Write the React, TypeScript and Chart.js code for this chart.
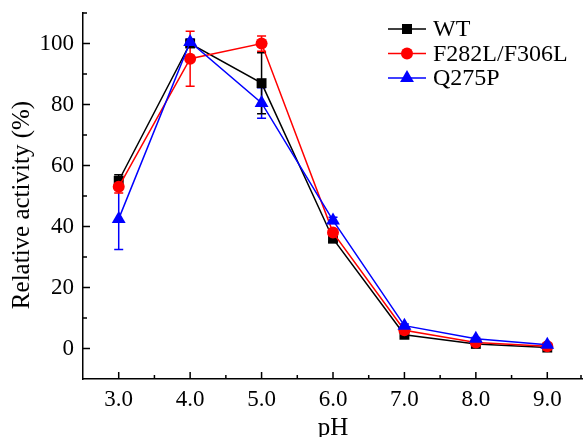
import React, { useEffect, useRef } from "react";
import { Chart, registerables } from "chart.js";

Chart.register(...registerables);

const phValues = [3, 4, 5, 6, 7, 8, 9];
const xTickValues = [3, 4, 5, 6, 7, 8, 9];
const xMinorTicks = [3.5, 4.5, 5.5, 6.5, 7.5, 8.5, 9.5];
const yTickValues = [0, 20, 40, 60, 80, 100];
const yMinorTicks = [10, 30, 50, 70, 90, 110];

const seriesNames = ["WT", "F282L/F306L", "Q275P"];
const wtValues = [55, 100, 87, 36, 4.5, 1.5, 0.3];
const wtErrors = [2, 1, 10, 1, 0.5, 0.4, 0.3];
const mutValues = [53, 95, 100, 38, 6, 2, 0.7];
const mutErrors = [2, 9, 2.5, 1, 0.5, 0.4, 0.3];
const qValues = [42.5, 100.5, 80.5, 42, 7.5, 3.2, 1.2];
const qErrors = [10, 1, 5, 1, 0.5, 0.4, 0.3];

const xTitle = "pH";
const yTitle = "Relative activity (%)";

const colors = ["#000000", "#ff0000", "#0000ff"];
const pointStyles = ["rect", "circle", "triangle"];
const FONT = '"Liberation Serif", "Times New Roman", serif';

const allValues = [wtValues, mutValues, qValues];
const allErrors = [wtErrors, mutErrors, qErrors];

function drawMarker(ctx: CanvasRenderingContext2D, style: string, x: number, y: number, color: string) {
  ctx.save();
  ctx.fillStyle = color;
  ctx.beginPath();
  if (style === "rect") {
    ctx.rect(x - 5, y - 5, 10, 10);
  } else if (style === "circle") {
    ctx.arc(x, y, 6, 0, Math.PI * 2);
  } else {
    const r = 8;
    ctx.moveTo(x, y - r);
    ctx.lineTo(x + r * Math.sin(Math.PI / 3), y + r / 2);
    ctx.lineTo(x - r * Math.sin(Math.PI / 3), y + r / 2);
    ctx.closePath();
  }
  ctx.fill();
  ctx.restore();
}

const errorBarPlugin = {
  id: "errorBars",
  beforeDatasetsDraw(chart: any) {
    const ctx = chart.ctx;
    const xs = chart.scales.x;
    const ys = chart.scales.y;
    ctx.save();
    ctx.lineWidth = 1.5;
    for (let i = allValues.length - 1; i >= 0; i--) {
      ctx.strokeStyle = colors[i];
      phValues.forEach((p, j) => {
        const v = allValues[i][j];
        const e = allErrors[i][j];
        const x = xs.getPixelForValue(p);
        const yt = ys.getPixelForValue(v + e);
        const yb = ys.getPixelForValue(v - e);
        ctx.beginPath();
        ctx.moveTo(x, yt);
        ctx.lineTo(x, yb);
        ctx.moveTo(x - 4.5, yt);
        ctx.lineTo(x + 4.5, yt);
        ctx.moveTo(x - 4.5, yb);
        ctx.lineTo(x + 4.5, yb);
        ctx.stroke();
      });
    }
    ctx.restore();
  },
};

const axisTicksPlugin = {
  id: "axisTicks",
  afterDraw(chart: any) {
    const ctx = chart.ctx;
    const xs = chart.scales.x;
    const ys = chart.scales.y;
    const area = chart.chartArea;
    ctx.save();
    ctx.strokeStyle = "#000";
    ctx.lineWidth = 1.5;
    ctx.beginPath();
    xTickValues.forEach((v) => {
      const x = xs.getPixelForValue(v);
      ctx.moveTo(x, area.bottom);
      ctx.lineTo(x, area.bottom - 7);
    });
    xMinorTicks.forEach((v) => {
      const x = Math.min(xs.getPixelForValue(v), area.right - 2);
      ctx.moveTo(x, area.bottom);
      ctx.lineTo(x, area.bottom - 4);
    });
    yTickValues.forEach((v) => {
      const y = ys.getPixelForValue(v);
      ctx.moveTo(area.left, y);
      ctx.lineTo(area.left + 7, y);
    });
    yMinorTicks.forEach((v) => {
      const y = ys.getPixelForValue(v);
      ctx.moveTo(area.left, y);
      ctx.lineTo(area.left + 4, y);
    });
    ctx.stroke();

    // y-axis title
    ctx.save();
    ctx.translate(22, 205);
    ctx.rotate(-Math.PI / 2);
    ctx.font = `25px ${FONT}`;
    ctx.fillStyle = "#000";
    ctx.textAlign = "center";
    ctx.textBaseline = "middle";
    ctx.fillText(yTitle, 0, 0);
    ctx.restore();

    // legend
    ctx.font = `24px ${FONT}`;
    ctx.textBaseline = "middle";
    ctx.textAlign = "left";
    seriesNames.forEach((name, i) => {
      const y = 29 + i * 24.5;
      ctx.strokeStyle = colors[i];
      ctx.lineWidth = 1.5;
      ctx.beginPath();
      ctx.moveTo(388, y);
      ctx.lineTo(426, y);
      ctx.stroke();
      drawMarker(ctx, pointStyles[i], 407, y, colors[i]);
      ctx.fillStyle = "#000";
      ctx.fillText(name, 433, y + 1);
    });
    ctx.restore();
  },
};

export default function App() {
  const canvasRef = useRef<HTMLCanvasElement | null>(null);

  useEffect(() => {
    if (!canvasRef.current) return;
    const datasets = allValues.map((vals, i) => ({
      label: seriesNames[i],
      data: phValues.map((p, j) => ({ x: p, y: vals[j] })),
      borderColor: colors[i],
      backgroundColor: colors[i],
      pointBackgroundColor: colors[i],
      pointBorderColor: colors[i],
      pointBorderWidth: 0,
      pointStyle: pointStyles[i],
      pointRadius: i === 0 ? 7 : i === 1 ? 6 : 8,
      borderWidth: 1.5,
      tension: 0,
      order: 2 - i,
    }));

    const chart = new Chart(canvasRef.current, {
      type: "line",
      data: { datasets },
      options: {
        animation: false,
        responsive: false,
        devicePixelRatio: 1,
        layout: { autoPadding: false, padding: { top: 13, left: 0, right: 0, bottom: 0 } },
        plugins: { legend: { display: false }, tooltip: { enabled: false } },
        scales: {
          x: {
            type: "linear",
            min: 2.5,
            max: 9.5,
            grid: { display: false, drawTicks: false },
            border: { display: true, color: "#000", width: 1.5 },
            afterBuildTicks: (scale: any) => {
              scale.ticks = xTickValues.map((v) => ({ value: v }));
            },
            afterFit: (scale: any) => {
              scale.height = 58;
              scale.paddingLeft = 0;
              scale.paddingRight = 0;
            },
            ticks: {
              color: "#000",
              font: { family: FONT, size: 23 },
              padding: 7,
              maxRotation: 0,
              autoSkip: false,
              callback: (v: any) => Number(v).toFixed(1),
            },
            title: {
              display: true,
              text: xTitle,
              color: "#000",
              font: { family: FONT, size: 25, lineHeight: 0.7 },
              padding: { top: 0, bottom: 0 },
            },
          },
          y: {
            type: "linear",
            min: -10,
            max: 110,
            grid: { display: false, drawTicks: false },
            border: { display: true, color: "#000", width: 1.5 },
            afterBuildTicks: (scale: any) => {
              scale.ticks = yTickValues.map((v) => ({ value: v }));
            },
            afterFit: (scale: any) => {
              scale.width = 83;
              scale.paddingTop = 0;
              scale.paddingBottom = 0;
            },
            ticks: {
              color: "#000",
              font: { family: FONT, size: 23 },
              padding: 9,
              autoSkip: false,
              callback: (v: any) => String(v),
            },
          },
        },
      },
      plugins: [errorBarPlugin, axisTicksPlugin],
    } as any);
    return () => chart.destroy();
  }, []);

  return (
    <div style={{ position: "absolute", left: 0, top: 0, width: 583, height: 437, background: "#fff" }}>
      <canvas ref={canvasRef} width={583} height={437} style={{ width: 583, height: 437 }} />
    </div>
  );
}
